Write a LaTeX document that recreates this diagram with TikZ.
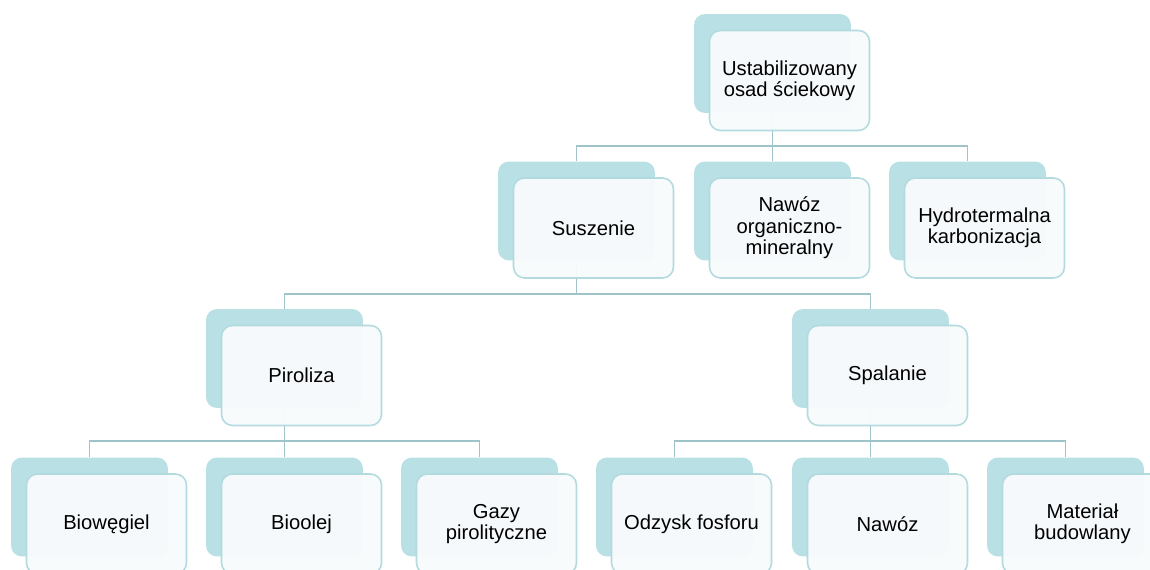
\documentclass[tikz,border=0pt]{standalone}
\usepackage{fontspec}
\setmainfont{Liberation Sans}
\usetikzlibrary{positioning,backgrounds}

\definecolor{tealback}{RGB}{185,224,228}
\definecolor{tealedge}{RGB}{178,218,223}
\definecolor{cardfill}{RGB}{248,251,252}
\definecolor{linkcol}{RGB}{158,195,200}

\tikzset{
	backcard/.style={fill=tealback, draw=none, rounded corners=0.22cm,
		minimum width=3.14cm, minimum height=1.98cm, inner sep=0pt},
	frontcard/.style={fill=cardfill, fill opacity=0.96, text opacity=1,
		draw=tealedge, line width=0.9pt, rounded corners=0.22cm,
		minimum width=3.2cm, minimum height=2cm, inner sep=0pt,
		align=center, font=\fontsize{11.5}{12.2}\selectfont},
	link/.style={draw=linkcol, line width=1.1pt}
}

% name / x / y (back card centre, pixels) / label
\newcommand{\cardlist}{%
	top/772.5/63.5/{Ustabilizowany\\osad ściekowy},
	sus/576.5/211/{Suszenie},
	naw/772.5/211/{Nawóz\\organiczno-\\mineralny},
	hyd/967.5/211/{Hydrotermalna\\karbonizacja},
	pir/284.5/358.5/{Piroliza},
	spa/870.5/358.5/{Spalanie},
	bio/89.5/507/{Biowęgiel},
	ole/284.5/507/{Bioolej},
	gaz/479.5/507/{Gazy\\pirolityczne},
	fos/674.5/507/{Odzysk fosforu},
	nwz/870.5/507/{Nawóz},
	mat/1065.5/507/{Materiał\\budowlany}}

\begin{document}
\begin{tikzpicture}[x=0.02cm,y=-0.02cm]
	\useasboundingbox (0,0) rectangle (1150,570);
%
	\foreach \n/\x/\y/\t in \cardlist {
		\node[backcard] (\n) at (\x,\y) {};
		\node[frontcard] (\n-f) at ([shift={(17,17)}]\n.center) {\t};
	}
%
	\begin{pgfonlayer}{background}
		\foreach \p/\c in {top/sus,top/naw,top/hyd,sus/pir,sus/spa,
			pir/bio,pir/ole,pir/gaz,spa/fos,spa/nwz,spa/mat}
			\draw[link] (\p.south) -- ++(0,33) -| (\c.north);
	\end{pgfonlayer}
\end{tikzpicture}
\end{document}
